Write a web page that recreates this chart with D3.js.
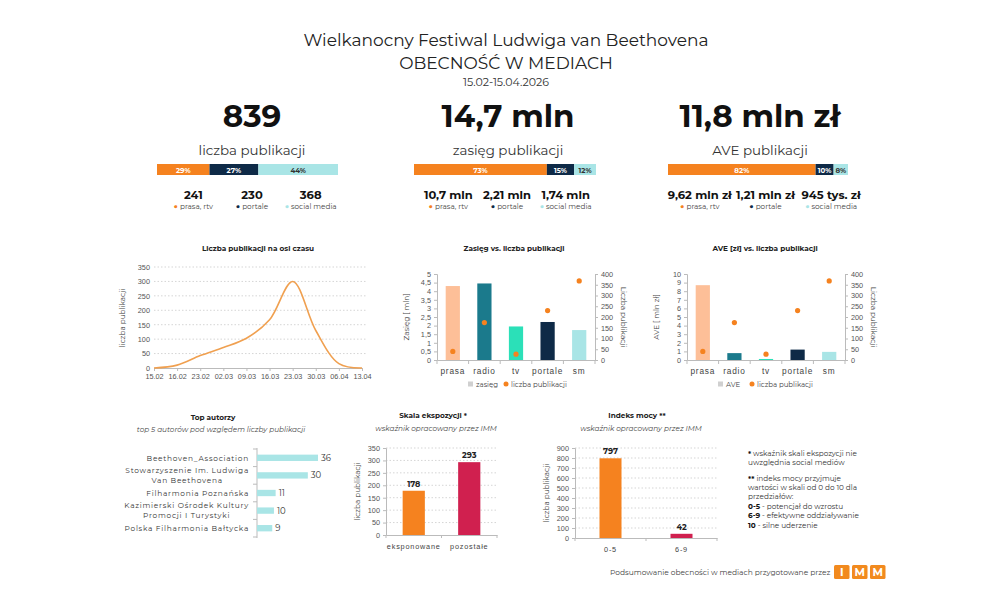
<!DOCTYPE html>
<html>
<head>
<meta charset="utf-8">
<script src="https://cdn.jsdelivr.net/npm/d3@7"></script>
<style>
body { margin: 0; background: #fff; }
svg { font-family: "Montserrat", "Open Sans", sans-serif; }
</style>
</head>
<body>
<div id="chart"></div>
<script>
// Wielkanocny Festiwal - podsumowanie obecności w mediach
const headerLines = ["Wielkanocny Festiwal Ludwiga van Beethovena", "OBECNOŚĆ W MEDIACH", "15.02-15.04.2026"];

const kpiTotals = ["839", "14,7 mln", "11,8 mln zł"];
const kpiLabels = ["liczba publikacji", "zasięg publikacji", "AVE publikacji"];
const kpiShares = [[29, 27, 44], [73, 15, 12], [82, 10, 8]];
const kpiParts = [["241", "230", "368"], ["10,7 mln", "2,21 mln", "1,74 mln"], ["9,62 mln zł", "1,21 mln zł", "945 tys. zł"]];
const segmentNames = ["prasa, rtv", "portale", "social media"];

const timeLabels = ["15.02", "16.02", "23.02", "02.03", "09.03", "16.03", "23.03", "30.03", "06.04", "13.04"];
const timeValues = [0, 10, 43, 71, 103, 167, 300, 130, 15, 0];

const mediaCats = ["prasa", "radio", "tv", "portale", "sm"];
const reachMln = [4.3, 4.45, 1.95, 2.21, 1.74];
const aveMln = [8.7, 0.8, 0.12, 1.21, 0.945];
const mediaPubs = [40, 174, 27, 230, 368];

const authors = ["Beethoven_Association", "Stowarzyszenie Im. Ludwiga\nVan Beethovena", "Filharmonia Poznańska", "Kazimierski Ośrodek Kultury\nPromocji I Turystyki", "Polska Filharmonia Bałtycka"];
const authorCounts = [36, 30, 11, 10, 9];

const exposureCats = ["eksponowane", "pozostałe"];
const exposureValues = [178, 293];
const powerCats = ["0-5", "6-9"];
const powerValues = [797, 42];

const orange = "#F5821F", navy = "#0E2A47", cyan = "#A9E5E6";
const mediaColors = ["#FDBF98", "#1B7A8C", "#2BE0B8", navy, cyan];
const pl = d3.formatLocale({ decimal: ",", thousands: " ", grouping: [3], currency: ["", " zł"] });
const fmt = pl.format("~g");

const svg = d3.select("#chart").append("svg")
    .attr("width", 1000)
    .attr("height", 614);

// nagłówek
svg.append("text").attr("x", 506).attr("y", 46).attr("text-anchor", "middle")
    .attr("font-size", 17).attr("fill", "#222").text(headerLines[0]);
svg.append("text").attr("x", 506).attr("y", 69).attr("text-anchor", "middle")
    .attr("font-size", 17).attr("fill", "#222").text(headerLines[1]);
svg.append("text").attr("x", 506).attr("y", 86).attr("text-anchor", "middle")
    .attr("font-size", 11).attr("fill", "#333").text(headerLines[2]);

// KPI
const kpiCx = [252, 508, 760];
const kpiBar = [[157, 338], [414, 596], [668, 848]];
const kpiPartRange = [[164, 340], [419, 595], [667, 864]];
const segColors = [orange, navy, cyan];

kpiTotals.forEach((total, i) => {
    const cx = kpiCx[i];
    svg.append("text").attr("x", cx).attr("y", 127).attr("text-anchor", "middle")
        .attr("font-size", 31).attr("font-weight", 700).attr("fill", "#111").text(total);
    svg.append("text").attr("x", cx).attr("y", 155).attr("text-anchor", "middle")
        .attr("font-size", 13.4).attr("fill", "#333").text(kpiLabels[i]);

    const x = d3.scaleLinear().domain([0, 100]).range(kpiBar[i]);
    const ends = d3.cumsum(kpiShares[i]);
    const segs = kpiShares[i].map((s, j) => ({ s, start: ends[j] - s, end: ends[j], j }));

    svg.selectAll(null).data(segs).enter().append("rect")
        .attr("x", d => x(d.start))
        .attr("y", 164)
        .attr("width", d => x(d.end) - x(d.start))
        .attr("height", 11)
        .attr("fill", d => segColors[d.j]);

    svg.selectAll(null).data(segs).enter().append("text")
        .attr("x", d => (x(d.start) + x(d.end)) / 2)
        .attr("y", 172.5)
        .attr("text-anchor", "middle")
        .attr("font-size", 7)
        .attr("font-weight", 700)
        .attr("fill", d => d.j === 2 ? "#333" : "#fff")
        .text(d => d.s + "%");

    const xp = d3.scaleBand().domain(d3.range(3)).range(kpiPartRange[i]);
    svg.selectAll(null).data(kpiParts[i]).enter().append("text")
        .attr("x", (d, j) => xp(j) + xp.bandwidth() / 2)
        .attr("y", 199)
        .attr("text-anchor", "middle")
        .attr("font-size", 11.5)
        .attr("font-weight", 700)
        .attr("fill", "#111")
        .text(d => d);

    const lab = svg.selectAll(null).data(segmentNames).enter().append("text")
        .attr("x", (d, j) => xp(j) + xp.bandwidth() / 2)
        .attr("y", 208.5)
        .attr("text-anchor", "middle")
        .attr("font-size", 7.3);
    lab.append("tspan").attr("fill", (d, j) => segColors[j]).text("● ");
    lab.append("tspan").attr("fill", "#444").text(d => d);
});

function chartTitle(cx, y, txt, italic) {
    svg.append("text").attr("x", cx).attr("y", y).attr("text-anchor", "middle")
        .attr("font-size", italic ? 7.3 : 7.3)
        .attr("font-weight", italic ? 400 : 700)
        .attr("font-style", italic ? "italic" : "normal")
        .attr("fill", italic ? "#444" : "#222")
        .text(txt);
}

function rotLabel(x, y, txt, angle) {
    svg.append("text")
        .attr("transform", `translate(${x},${y}) rotate(${angle})`)
        .attr("text-anchor", "middle")
        .attr("font-size", 7.3)
        .attr("fill", "#444")
        .text(txt);
}

function styleAxis(g) {
    g.selectAll("text").attr("fill", "#555").attr("font-size", 7.3).attr("font-family", null);
    g.selectAll("line").attr("stroke", "#bbb");
    g.select(".domain").attr("stroke", "#bbb");
}

function grid(yScale, ticks, x0, x1) {
    svg.append("g").selectAll("line").data(ticks.filter(t => t > 0)).enter().append("line")
        .attr("x1", x0).attr("x2", x1)
        .attr("y1", d => yScale(d)).attr("y2", d => yScale(d))
        .attr("stroke", "#d5d5d5")
        .attr("stroke-dasharray", "1.5,2");
}

// oś czasu
chartTitle(258, 251, "Liczba publikacji na osi czasu");
const xT = d3.scalePoint().domain(timeLabels).range([154, 362]);
const yT = d3.scaleLinear().domain([0, 350]).range([368, 267]);
const tT = d3.range(0, 351, 50);
grid(yT, tT, 154, 366);
svg.append("g").attr("transform", "translate(154,0)")
    .call(d3.axisLeft(yT).tickValues(tT).tickSize(0).tickPadding(4))
    .call(g => g.select(".domain").remove())
    .call(styleAxis);
svg.append("g").attr("transform", "translate(0,368)")
    .call(d3.axisBottom(xT).tickSize(3).tickPadding(3))
    .call(styleAxis);
svg.append("path")
    .datum(timeValues)
    .attr("fill", "none")
    .attr("stroke", "#F0A050")
    .attr("stroke-width", 1.6)
    .attr("d", d3.line()
        .x((d, i) => xT(timeLabels[i]))
        .y(d => yT(d))
        .curve(d3.curveCatmullRom.alpha(0.5)));
rotLabel(125, 318, "liczba publikacji", -90);

// wykresy: słupki + punkty
function dualChart(cfg) {
    const x0 = cfg.x0, x1 = cfg.x0 + 158;
    chartTitle(cfg.titleX, 251, cfg.title);
    const x = d3.scaleBand().domain(mediaCats).range([x0, x1]).paddingInner(0.55).paddingOuter(0.275);
    const yL = d3.scaleLinear().domain([0, cfg.max]).range([360, 274]);
    const yR = d3.scaleLinear().domain([0, 400]).range([360, 274]);

    svg.append("g").attr("transform", `translate(${x0},0)`)
        .call(d3.axisLeft(yL).tickValues(d3.range(0, cfg.max + cfg.step / 2, cfg.step)).tickFormat(fmt).tickSize(3).tickPadding(3))
        .call(styleAxis);
    svg.append("g").attr("transform", `translate(${x1},0)`)
        .call(d3.axisRight(yR).tickValues(d3.range(0, 401, 50)).tickSize(3).tickPadding(3))
        .call(styleAxis);
    const xa = svg.append("g").attr("transform", "translate(0,360)")
        .call(d3.axisBottom(x).tickSize(0).tickPadding(8))
        .call(styleAxis);
    xa.selectAll("text").attr("font-size", 8.3).attr("fill", "#444").attr("letter-spacing", 0.8);
    xa.selectAll(null).data(d3.range(mediaCats.length + 1)).enter().append("line")
        .attr("x1", i => x0 + i * x.step()).attr("x2", i => x0 + i * x.step())
        .attr("y1", 0).attr("y2", 4)
        .attr("stroke", "#bbb");

    svg.selectAll(null).data(cfg.values).enter().append("rect")
        .attr("x", (d, i) => x(mediaCats[i]))
        .attr("y", d => yL(d))
        .attr("width", x.bandwidth())
        .attr("height", d => yL(0) - yL(d))
        .attr("fill", (d, i) => mediaColors[i]);

    svg.selectAll(null).data(mediaPubs).enter().append("circle")
        .attr("cx", (d, i) => x(mediaCats[i]) + x.bandwidth() / 2)
        .attr("cy", d => yR(d))
        .attr("r", 2.6)
        .attr("fill", orange);

    rotLabel(x0 - 28, 317, cfg.leftLabel, -90);
    rotLabel(x1 + 26, 317, "Liczba publikacji", 90);

    const lg = svg.append("g").attr("transform", "translate(0,384)");
    lg.append("rect").attr("x", cfg.legX).attr("y", -2.5).attr("width", 5).attr("height", 5).attr("fill", "#d0d0d0");
    lg.append("text").attr("x", cfg.legX + 8).attr("y", 2.5).attr("font-size", 7).attr("fill", "#444").text(cfg.legName);
    lg.append("circle").attr("cx", cfg.legX + cfg.legGap).attr("cy", 0).attr("r", 2.5).attr("fill", orange);
    lg.append("text").attr("x", cfg.legX + cfg.legGap + 5).attr("y", 2.5).attr("font-size", 7).attr("fill", "#444").text("liczba publikacji");
}

dualChart({ x0: 437, titleX: 514, title: "Zasięg vs. liczba publikacji", values: reachMln, max: 5, step: 0.5,
    leftLabel: "Zasięg [ mln]", legName: "zasięg", legX: 468, legGap: 38 });
dualChart({ x0: 687, titleX: 765, title: "AVE [zł] vs. liczba publikacji", values: aveMln, max: 10, step: 1,
    leftLabel: "AVE [ mln zł]", legName: "AVE", legX: 718, legGap: 34 });

// top autorzy
chartTitle(213, 420, "Top autorzy");
chartTitle(221, 432, "top 5 autorów pod względem liczby publikacji", true);
const xA = d3.scaleLinear().domain([0, 36]).range([257, 318]);
const yA = d3.scaleBand().domain(d3.range(authors.length)).range([449, 537]).paddingInner(0.64).paddingOuter(0.32);
svg.append("line").attr("x1", 257).attr("x2", 257).attr("y1", 448).attr("y2", 538).attr("stroke", "#bbb");
svg.selectAll(null).data(d3.range(authors.length + 1)).enter().append("line")
    .attr("x1", 253).attr("x2", 257)
    .attr("y1", i => 449 + i * yA.step())
    .attr("y2", i => 449 + i * yA.step())
    .attr("stroke", "#bbb");
svg.selectAll(null).data(authorCounts).enter().append("rect")
    .attr("x", 257)
    .attr("y", (d, i) => yA(i))
    .attr("width", d => xA(d) - 257)
    .attr("height", yA.bandwidth())
    .attr("fill", cyan);
svg.selectAll(null).data(authorCounts).enter().append("text")
    .attr("x", d => xA(d) + 3)
    .attr("y", (d, i) => yA(i) + yA.bandwidth() / 2 + 3)
    .attr("font-size", 8.5)
    .attr("fill", "#333")
    .text(d => d);
authors.forEach((name, i) => {
    const lines = name.split("\n");
    const cy = yA(i) + yA.bandwidth() / 2;
    const t = svg.append("text")
        .attr("text-anchor", "middle")
        .attr("font-size", 7.4)
        .attr("letter-spacing", 0.75)
        .attr("fill", "#333");
    lines.forEach((ln, k) => {
        t.append("tspan").attr("y", cy + 2.7 + (k - (lines.length - 1) / 2) * 10).text(ln);
    });
    let w = 0;
    t.selectAll("tspan").each(function () { w = Math.max(w, this.getComputedTextLength()); });
    t.selectAll("tspan").attr("x", 249 - w / 2);
});

// wykresy kolumnowe z wartościami
function columnChart(cfg) {
    chartTitle(cfg.titleX, 418, cfg.title);
    chartTitle(cfg.subX, 431, "wskaźnik opracowany przez IMM", true);
    const x = d3.scaleBand().domain(cfg.cats).range([cfg.x0, cfg.x1]).paddingInner(cfg.pad).paddingOuter(cfg.pad / 2);
    const y = d3.scaleLinear().domain([0, cfg.max]).range([cfg.y0, 448]);
    const ticks = d3.range(0, cfg.max + 1, cfg.step);
    grid(y, ticks, cfg.x0, cfg.x1);
    svg.append("g").attr("transform", `translate(${cfg.x0},0)`)
        .call(d3.axisLeft(y).tickValues(ticks).tickSize(3).tickPadding(3))
        .call(styleAxis);
    const xa = svg.append("g").attr("transform", `translate(0,${cfg.y0})`)
        .call(d3.axisBottom(x).tickSize(0).tickPadding(9))
        .call(styleAxis);
    xa.selectAll("text").attr("letter-spacing", 0.8).attr("fill", "#444");
    xa.selectAll(null).data([0, 1, 2]).enter().append("line")
        .attr("x1", i => cfg.x0 + i * (cfg.x1 - cfg.x0) / 2).attr("x2", i => cfg.x0 + i * (cfg.x1 - cfg.x0) / 2)
        .attr("y1", 0).attr("y2", 3).attr("stroke", "#bbb");
    svg.selectAll(null).data(cfg.values).enter().append("rect")
        .attr("x", (d, i) => x(cfg.cats[i]))
        .attr("y", d => y(d))
        .attr("width", x.bandwidth())
        .attr("height", d => y(0) - y(d))
        .attr("fill", (d, i) => [orange, "#D0204F"][i]);
    svg.selectAll(null).data(cfg.values).enter().append("text")
        .attr("x", (d, i) => x(cfg.cats[i]) + x.bandwidth() / 2)
        .attr("y", d => y(d) - 4)
        .attr("text-anchor", "middle")
        .attr("font-size", 8)
        .attr("font-weight", 700)
        .attr("fill", "#222")
        .text(d => d);
    rotLabel(cfg.x0 - 26, (cfg.y0 + 448) / 2, "liczba publikacji", -90);
}

columnChart({ title: "Skala ekspozycji *", titleX: 433, subX: 436, cats: exposureCats, values: exposureValues,
    max: 350, step: 50, x0: 386, x1: 497, y0: 535, pad: 0.6 });
columnChart({ title: "Indeks mocy **", titleX: 637, subX: 641, cats: powerCats, values: powerValues,
    max: 900, step: 100, x0: 575, x1: 717, y0: 538, pad: 0.69 });

// przypisy
const notes = [
    ["*", " wskaźnik skali ekspozycji nie", 456],
    ["", "uwzględnia social mediów", 465],
    ["**", " indeks mocy przyjmuje", 481],
    ["", "wartości w skali od 0 do 10 dla", 490],
    ["", "przedziałów:", 499],
    ["0-5", " - potencjał do wzrostu", 508.5],
    ["6-9", " - efektywne oddziaływanie", 518],
    ["10", " - silne uderzenie", 527.5]
];
const nt = svg.selectAll(null).data(notes).enter().append("text")
    .attr("x", 748).attr("y", d => d[2])
    .attr("font-size", 7.3).attr("fill", "#333");
nt.append("tspan").attr("font-weight", 700).attr("fill", "#111").text(d => d[0]);
nt.append("tspan").text(d => d[1]);

// stopka
svg.append("text").attr("x", 610).attr("y", 575).attr("font-size", 7.5).attr("fill", "#444")
    .text("Podsumowanie obecności w mediach przygotowane przez");
const logo = ["I", "M", "M"];
svg.selectAll(null).data(logo).enter().append("rect")
    .attr("x", (d, i) => 834 + i * 18).attr("y", 565)
    .attr("width", 15.5).attr("height", 14).attr("rx", 1.5)
    .attr("fill", "#F28A1E");
svg.selectAll(null).data(logo).enter().append("text")
    .attr("x", (d, i) => 834 + i * 18 + 7.75).attr("y", 576)
    .attr("text-anchor", "middle").attr("font-size", 11).attr("font-weight", 700).attr("fill", "#fff")
    .text(d => d);
</script>
</body>
</html>
